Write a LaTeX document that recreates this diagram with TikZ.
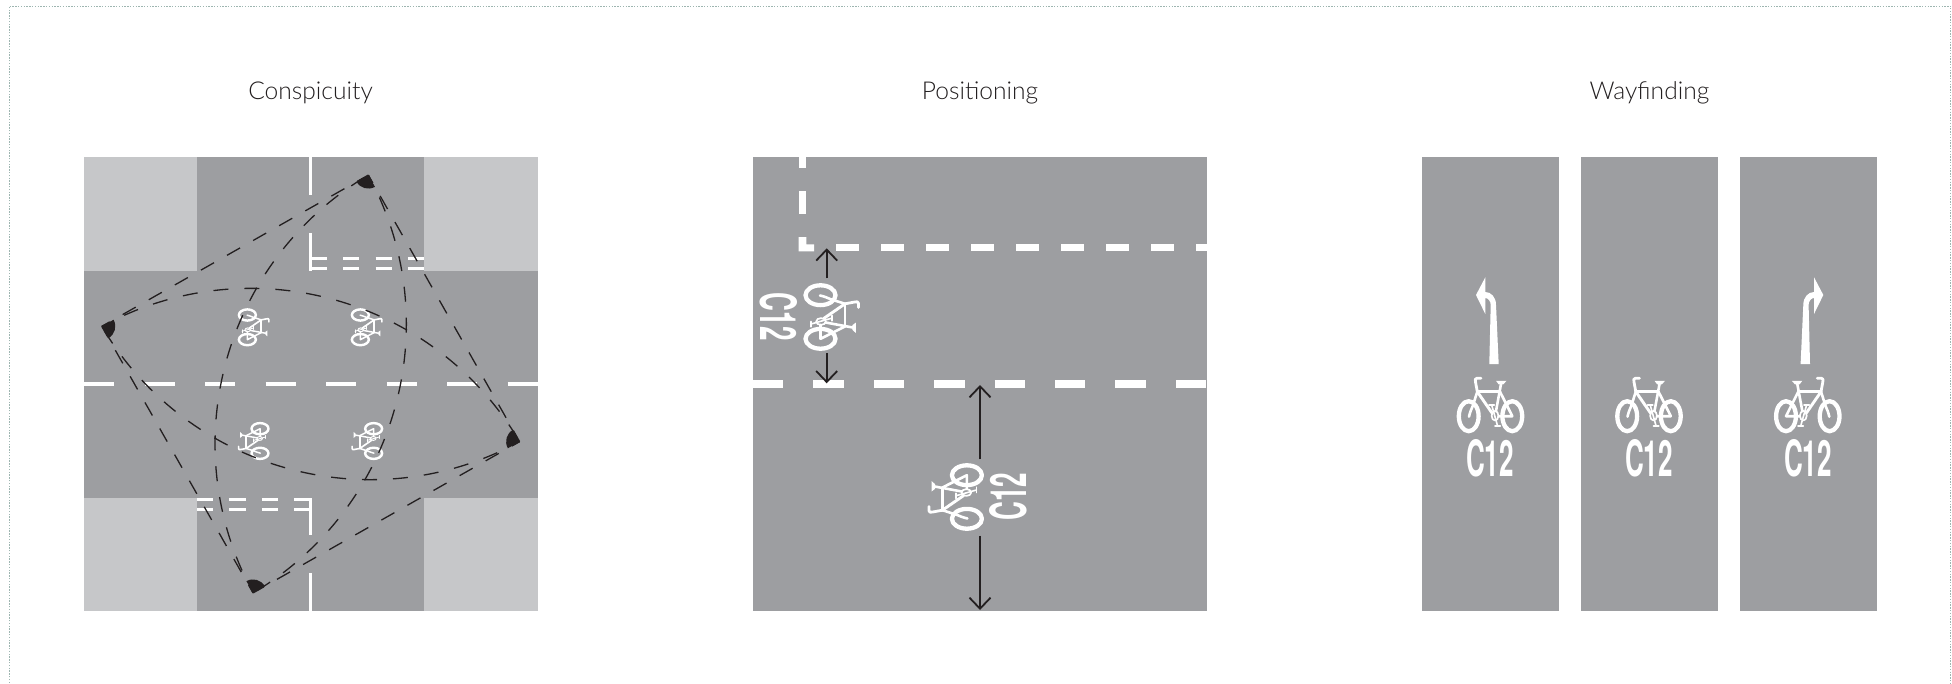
\documentclass[tikz,border=0pt]{standalone}
\usepackage{fontspec}
\usepackage{graphicx}
\usetikzlibrary{arrows.meta}
\newfontfamily\titlefont{Lato Light}
\newfontfamily\markfont{TeX Gyre Heros}
\definecolor{road}{HTML}{9D9EA1}
\definecolor{verge}{HTML}{C6C7C9}
\definecolor{ink}{HTML}{231F20}
\definecolor{framedot}{HTML}{9DB5B0}
\tikzset{
  titletext/.style={font=\titlefont\fontsize{24.6}{25}\selectfont,text=ink,anchor=base,inner sep=0pt},
  marktext/.style={font=\markfont\bfseries\fontsize{50}{50}\selectfont,text=white,inner sep=0pt},
  sightstraight/.style={ink,line width=1.3pt,dash pattern=on 15pt off 15pt,dash phase=6pt},
  sightcurve/.style={ink,line width=1.3pt,dash pattern=on 15pt off 16pt,dash phase=6pt},
  whitethin/.style={white,line width=3.5pt},
  measure/.style={ink,line width=1.8pt,-{Straight Barb[length=11pt,width=21pt,line width=1.8pt]}},
  turnarrow/.style={fill=white,draw=none},
}
% x, y, rotation, mirror (1 or -1), scale
\newcommand{\roadbike}[5]{%
\begin{scope}[shift={(#1,#2)},rotate=#3,xscale=#4*#5,yscale=#5,
  bikeline/.style={draw=white,line width=##1*#5 pt,line cap=round,line join=round,fill=none}]
  \draw[bikeline=4.3] (-21.8,11.2) ellipse[x radius=9.9pt,y radius=15pt];
  \draw[bikeline=4.3] (21.8,11.2) ellipse[x radius=9.9pt,y radius=15pt];
  \draw[bikeline=1.7] (4.5,10.7) ellipse[x radius=3.4pt,y radius=4.8pt];
  \draw[bikeline=2.6] (-13.2,-13.3) -- (-17.8,1) .. controls (-19,4) and (-20.5,7) .. (-21.5,11.7);
  \draw[bikeline=2.6] (-13.2,-13.3) -- (9.5,-13.3);
  \draw[bikeline=2.9] (-13.2,-13.3) -- (1.5,8);
  \draw[bikeline=2.6] (10.5,-21) -- (5.5,6);
  \draw[bikeline=2.6] (9.5,-13.3) -- (21.8,11.2) -- (8,11.2);
  \draw[bikeline=2.8] (-13.2,-13.3) -- (-15,-23) .. controls (-15.6,-25) and (-15.5,-26.8) .. (-13.5,-26.8) -- (-9.5,-26.8);
  \fill[white] (5.5,-24.2) -- (16,-24.2) -- (12.8,-20.6) -- (8.2,-20.6) -- cycle;
  \draw[bikeline=1.6] (1.2,0) -- (7,20.7);
  \draw[bikeline=1.6] (-1.5,0) -- (3.8,0);
  \draw[bikeline=1.6] (4.5,20.7) -- (9.8,20.7);
\end{scope}}
\begin{document}
\begin{tikzpicture}[x=1pt,y=-1pt]
\useasboundingbox (0,0) rectangle (1952,683);
\draw[framedot,line width=1pt,dash pattern=on 1.4pt off 1.4pt] (9,683) -- (9,6) -- (1950.7,6) -- (1950.7,683);

% titles
\node[titletext] (t1) at (310.5,99.3) {Conspicuity};
\node[titletext] (t2) at (980,99.3) {Positioning};
\node[titletext] (t3) at (1649.5,99.3) {Wayfinding};

% ---------- panel 1
\fill[road] (84,157) rectangle (538,611);
\fill[verge] (84,157) rectangle (197,271);
\fill[verge] (424,157) rectangle (538,271);
\fill[verge] (84,498) rectangle (197,611);
\fill[verge] (424,498) rectangle (538,611);
\draw[whitethin,dash pattern=on 30.3pt off 30.2pt] (84,384) -- (538,384);
\draw[whitethin] (310.7,157) -- (310.7,195);
\draw[whitethin] (310.7,233) -- (310.7,270.5);
\draw[whitethin] (310.7,498) -- (310.7,535);
\draw[whitethin] (310.7,573) -- (310.7,611);
\draw[whitethin,dash pattern=on 16.2pt off 16.2pt] (310.7,258.3) -- (424,258.3);
\draw[whitethin,dash pattern=on 16.2pt off 16.2pt] (310.7,268.7) -- (424,268.7);
\draw[whitethin,dash pattern=on 16.2pt off 16.2pt] (197,499.5) -- (310.7,499.5);
\draw[whitethin,dash pattern=on 16.2pt off 16.2pt] (197,509.5) -- (310.7,509.5);

\roadbike{253.7}{327.3}{-90}{1}{0.565}
\roadbike{366.7}{327.3}{-90}{1}{0.565}
\roadbike{253.7}{441}{90}{1}{0.565}
\roadbike{367.3}{441}{90}{1}{0.565}

\coordinate (eL) at (101.8,326.4);
\coordinate (eT) at (368.3,175.1);
\coordinate (eR) at (519.6,441.6);
\coordinate (eB) at (253.1,592.9);
\draw[sightstraight] (eL) -- (eT);
\draw[sightstraight] (eT) -- (eR);
\draw[sightstraight] (eR) -- (eB);
\draw[sightstraight] (eB) -- (eL);
\draw[sightcurve] (eL) .. controls (249.2,246) and (434.2,297) .. (eR);
\draw[sightcurve] (eT) .. controls (448.7,322.5) and (397.7,507.5) .. (eB);
\draw[sightcurve] (eR) .. controls (372.2,522) and (187.2,471) .. (eL);
\draw[sightcurve] (eB) .. controls (172.7,445.5) and (223.7,260.5) .. (eT);
\fill[ink] (eT) -- ++(-150.4:13.5pt) arc[start angle=-150.4,delta angle=90,radius=13.5pt] -- cycle;
\fill[ink] (eR) -- ++(-240.4:13.5pt) arc[start angle=-240.4,delta angle=90,radius=13.5pt] -- cycle;
\fill[ink] (eB) -- ++(-330.4:13.5pt) arc[start angle=-330.4,delta angle=90,radius=13.5pt] -- cycle;
\fill[ink] (eL) -- ++(-420.4:13.5pt) arc[start angle=-420.4,delta angle=90,radius=13.5pt] -- cycle;

% ---------- panel 2
\fill[road] (753,157) rectangle (1206.7,611);
\draw[white,line width=7.3pt,dash pattern=on 30.3pt off 30.1pt] (753,384) -- (1206.7,384);
\draw[white,line width=7.3pt,dash pattern=on 22.6pt off 22.4pt] (836,247.7) -- (1206.7,247.7);
\fill[white] (798.7,157) rectangle (806.3,168.3);
\fill[white] (798.7,191) rectangle (806.3,213.7);
\fill[white] (798.7,237) -- (806.3,237) -- (806.3,244.3) -- (814,244.3) -- (814,251.4) -- (798.7,251.4) -- cycle;

\roadbike{831.7}{317}{-90}{1}{1}
\roadbike{955.7}{497}{90}{1}{1}
\node[marktext,rotate=-90] (m1) at (779.2,316.7) {\scalebox{0.52}[1]{C12}};
\node[marktext,rotate=90] (m2) at (1008.3,496.7) {\scalebox{0.52}[1]{C12}};

\coordinate (a1s) at (826.7,278.3);
\coordinate (a1e) at (826.7,248.3);
\coordinate (a2s) at (826.7,353.3);
\coordinate (a2e) at (826.7,383.3);
\coordinate (a3s) at (980,459.3);
\coordinate (a3e) at (980,385);
\coordinate (a4s) at (980,535.7);
\coordinate (a4e) at (980,610);
\draw[measure] (a1s) -- (a1e);
\draw[measure] (a2s) -- (a2e);
\draw[measure] (a3s) -- (a3e);
\draw[measure] (a4s) -- (a4e);

% ---------- panel 3
\fill[road] (1422,157) rectangle (1559,611);
\fill[road] (1581,157) rectangle (1718,611);
\fill[road] (1740,157) rectangle (1877,611);
\roadbike{1490.5}{405}{0}{1}{1}
\roadbike{1649}{405}{0}{1}{1}
\roadbike{1807.8}{405}{0}{-1}{1}
\node[marktext] (m3) at (1490,458.7) {\scalebox{0.52}[1]{C12}};
\node[marktext] (m4) at (1649,458.7) {\scalebox{0.52}[1]{C12}};
\node[marktext] (m5) at (1808,458.7) {\scalebox{0.52}[1]{C12}};
\fill[turnarrow] (1476,295) -- (1485.3,277.3) -- (1485.3,292) .. controls (1491,292) and (1496,297) .. (1496,305) -- (1498.7,364) -- (1489.3,364) -- (1490.7,305) .. controls (1490.7,301) and (1488,298) .. (1485.3,298) -- (1485.3,314) -- cycle;
\begin{scope}[shift={(3299.3,0)},xscale=-1]
\fill[turnarrow] (1476,295) -- (1485.3,277.3) -- (1485.3,292) .. controls (1491,292) and (1496,297) .. (1496,305) -- (1498.7,364) -- (1489.3,364) -- (1490.7,305) .. controls (1490.7,301) and (1488,298) .. (1485.3,298) -- (1485.3,314) -- cycle;
\end{scope}
\end{tikzpicture}
\end{document}
